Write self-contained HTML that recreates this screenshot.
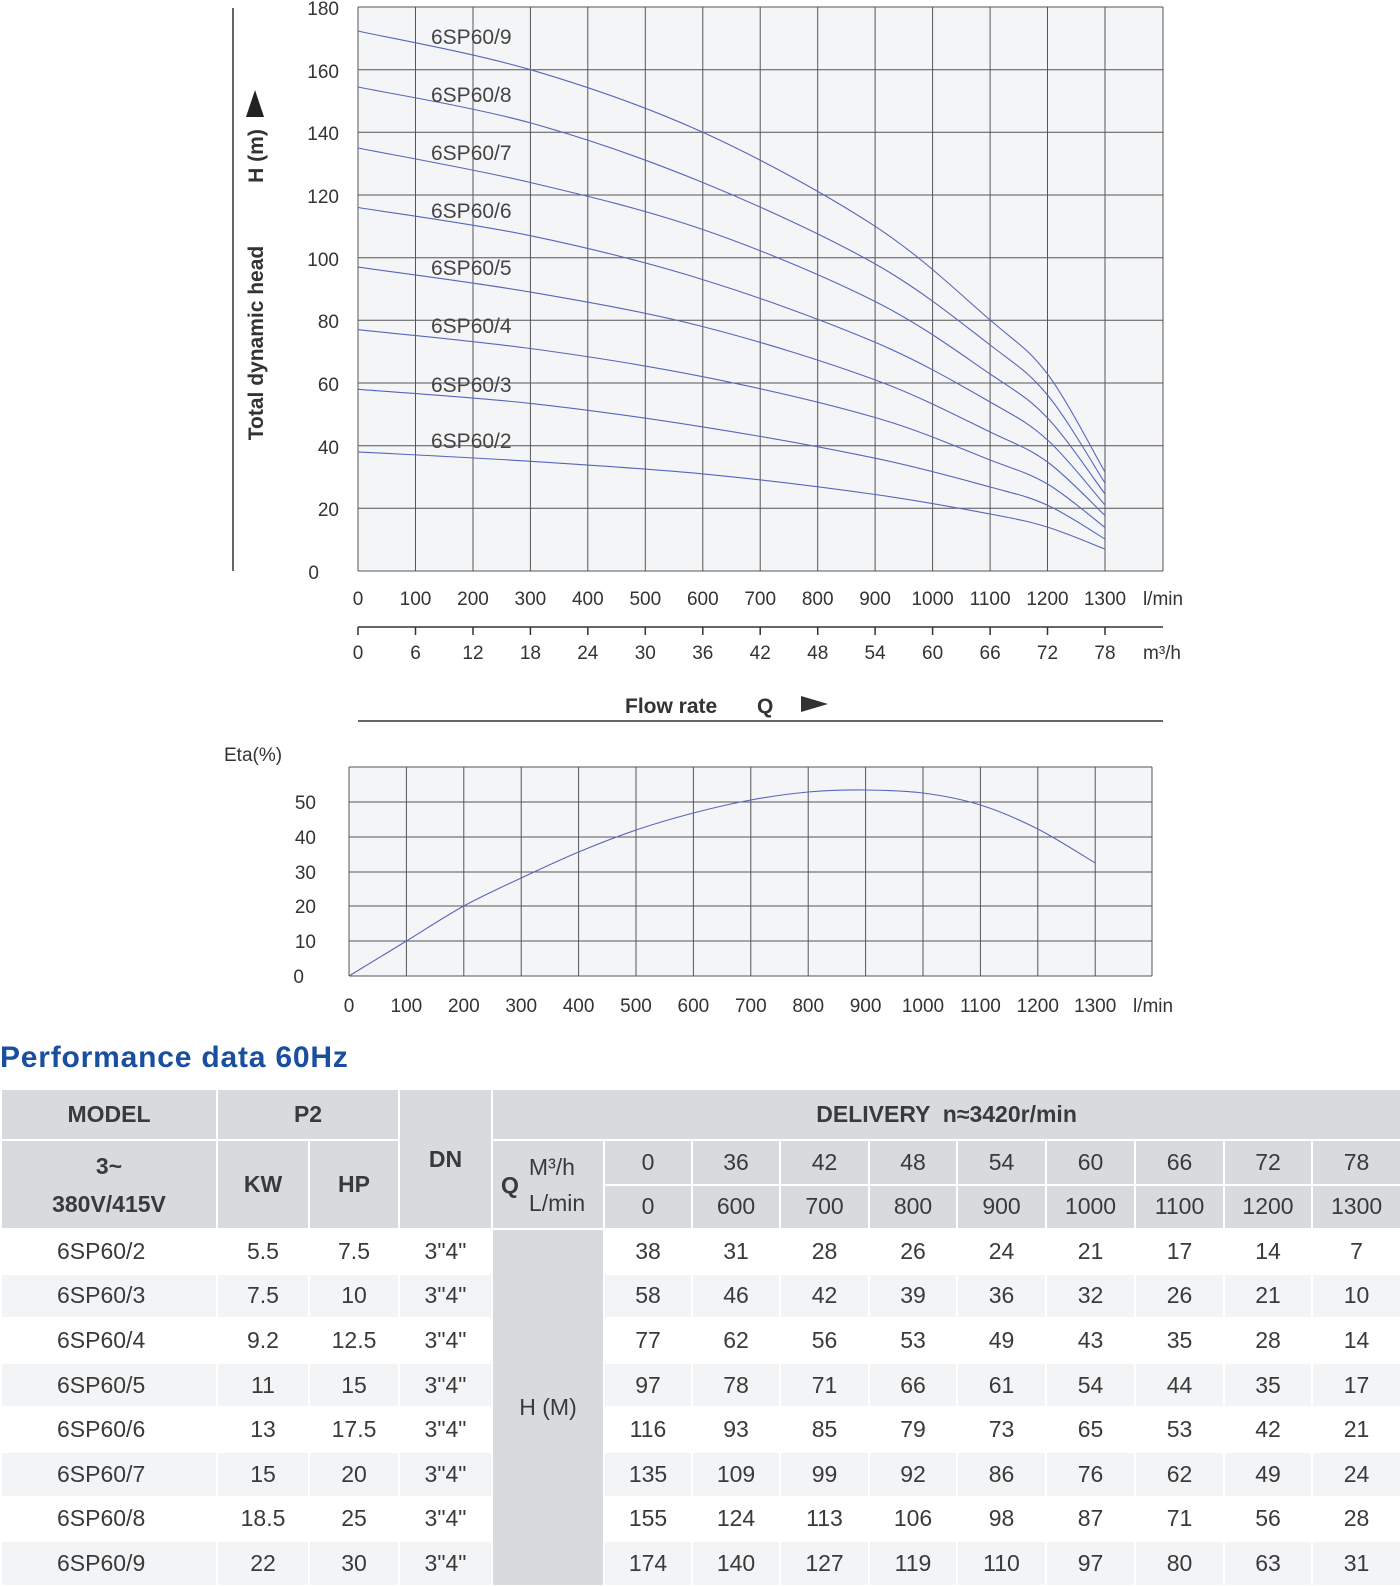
<!DOCTYPE html>
<html><head><meta charset="utf-8"><style>
body{margin:0;width:1400px;height:1585px;background:#fff;position:relative;overflow:hidden;font-family:"Liberation Sans",sans-serif}
svg{position:absolute;left:0;top:0}
.t{position:absolute;left:0;top:1088px;border-collapse:collapse;table-layout:fixed;width:1400px;font-size:23px;color:#3a3a3a}
.t td{border:2px solid #fff;text-align:center;padding:0}
.t .h{background:#d7dbde;font-weight:bold}
.t .hn{background:#d7dbde;font-weight:normal}
.t tr.a td{background:#fff}
.t tr.b td{background:#f3f4f6}
.t tr.a,.t tr.b{height:44.6px}
.t td.g{background:#d7dbde !important;font-weight:normal}
.t td.m{text-align:left;padding-left:55px}
</style></head><body>
<svg width="1400" height="1088" viewBox="0 0 1400 1088">
<rect x="358" y="7" width="805" height="564" fill="#f4f5f7"/>
<g stroke="#555" stroke-width="1">
<line x1="358" y1="7" x2="1163" y2="7"/><line x1="358" y1="69.7" x2="1163" y2="69.7"/><line x1="358" y1="132.3" x2="1163" y2="132.3"/><line x1="358" y1="195" x2="1163" y2="195"/><line x1="358" y1="257.7" x2="1163" y2="257.7"/><line x1="358" y1="320.3" x2="1163" y2="320.3"/><line x1="358" y1="383" x2="1163" y2="383"/><line x1="358" y1="445.7" x2="1163" y2="445.7"/><line x1="358" y1="508.3" x2="1163" y2="508.3"/><line x1="358" y1="571" x2="1163" y2="571"/>
<line x1="358" y1="7" x2="358" y2="571"/><line x1="415.5" y1="7" x2="415.5" y2="571"/><line x1="473" y1="7" x2="473" y2="571"/><line x1="530.4" y1="7" x2="530.4" y2="571"/><line x1="587.8" y1="7" x2="587.8" y2="571"/><line x1="645.3" y1="7" x2="645.3" y2="571"/><line x1="702.8" y1="7" x2="702.8" y2="571"/><line x1="760.2" y1="7" x2="760.2" y2="571"/><line x1="817.7" y1="7" x2="817.7" y2="571"/><line x1="875.1" y1="7" x2="875.1" y2="571"/><line x1="932.6" y1="7" x2="932.6" y2="571"/><line x1="990.1" y1="7" x2="990.1" y2="571"/><line x1="1047.5" y1="7" x2="1047.5" y2="571"/><line x1="1105" y1="7" x2="1105" y2="571"/><line x1="1163" y1="7" x2="1163" y2="571"/>
</g>
<g fill="none" stroke="#5566bb" stroke-width="1.1" stroke-linejoin="round">
<polyline class="sm" points="358,451.9 530.4,461.3 702.8,473.9 875.1,494.5 990.1,514 1047.5,527.1 1105,549.1"/>
<polyline class="sm" points="358,389.3 530.4,403.4 702.8,426.9 875.1,458.2 990.1,487 1047.5,505.2 1105,539"/>
<polyline class="sm" points="358,329.7 530.4,348.5 702.8,376.7 875.1,417.5 990.1,460 1047.5,484 1105,527.5"/>
<polyline class="sm" points="358,267.1 530.4,292.1 702.8,326.6 875.1,379.9 990.1,432 1047.5,462 1105,515.5"/>
<polyline class="sm" points="358,207.5 530.4,235.7 702.8,279.6 875.1,342.3 990.1,402 1047.5,440 1105,505"/>
<polyline class="sm" points="358,148 530.4,182.5 702.8,229.5 875.1,301.5 990.1,374 1047.5,418 1105,494"/>
<polyline class="sm" points="358,87 530.4,122.9 702.8,182.5 875.1,263.9 990.1,345 1047.5,395 1105,483"/>
<polyline class="sm" points="358,31 530.4,69.7 702.8,132.3 875.1,226.3 990.1,320 1047.5,374 1105,472"/>
</g>
<g font-size="21" fill="#444">
<text x="431" y="44">6SP60/9</text><text x="431" y="102">6SP60/8</text><text x="431" y="160">6SP60/7</text><text x="431" y="218">6SP60/6</text><text x="431" y="275">6SP60/5</text><text x="431" y="333">6SP60/4</text><text x="431" y="392">6SP60/3</text><text x="431" y="448">6SP60/2</text>
</g>
<g font-size="19" fill="#333" text-anchor="end">
<text x="339" y="15">180</text><text x="339" y="78">160</text><text x="339" y="140">140</text><text x="339" y="203">120</text><text x="339" y="266">100</text><text x="339" y="328">80</text><text x="339" y="391">60</text><text x="339" y="454">40</text><text x="339" y="516">20</text><text x="319" y="579">0</text>
</g>
<line x1="233" y1="8" x2="233" y2="571" stroke="#333" stroke-width="1.5"/>
<text transform="translate(263,343) rotate(-90)" text-anchor="middle" font-size="21" font-weight="bold" fill="#333">Total dynamic head</text>
<text transform="translate(263,156) rotate(-90)" text-anchor="middle" font-size="21" font-weight="bold" fill="#333">H (m)</text>
<polygon points="246,117 264,117 255,90" fill="#222"/>
<g font-size="19" fill="#333" text-anchor="middle">
<text x="358" y="605">0</text><text x="415.5" y="605">100</text><text x="473" y="605">200</text><text x="530.4" y="605">300</text><text x="587.8" y="605">400</text><text x="645.3" y="605">500</text><text x="702.8" y="605">600</text><text x="760.2" y="605">700</text><text x="817.7" y="605">800</text><text x="875.1" y="605">900</text><text x="932.6" y="605">1000</text><text x="990.1" y="605">1100</text><text x="1047.5" y="605">1200</text><text x="1105" y="605">1300</text>
<text x="1163" y="605">l/min</text>
<text x="358" y="659">0</text><text x="415.5" y="659">6</text><text x="473" y="659">12</text><text x="530.4" y="659">18</text><text x="587.8" y="659">24</text><text x="645.3" y="659">30</text><text x="702.8" y="659">36</text><text x="760.2" y="659">42</text><text x="817.7" y="659">48</text><text x="875.1" y="659">54</text><text x="932.6" y="659">60</text><text x="990.1" y="659">66</text><text x="1047.5" y="659">72</text><text x="1105" y="659">78</text>
<text x="1162" y="659">m³/h</text>
</g>
<line x1="358" y1="627" x2="1163" y2="627" stroke="#333" stroke-width="1.5"/>
<g stroke="#333" stroke-width="1.5"><line x1="358" y1="627" x2="358" y2="635"/><line x1="415.5" y1="627" x2="415.5" y2="635"/><line x1="473" y1="627" x2="473" y2="635"/><line x1="530.4" y1="627" x2="530.4" y2="635"/><line x1="587.8" y1="627" x2="587.8" y2="635"/><line x1="645.3" y1="627" x2="645.3" y2="635"/><line x1="702.8" y1="627" x2="702.8" y2="635"/><line x1="760.2" y1="627" x2="760.2" y2="635"/><line x1="817.7" y1="627" x2="817.7" y2="635"/><line x1="875.1" y1="627" x2="875.1" y2="635"/><line x1="932.6" y1="627" x2="932.6" y2="635"/><line x1="990.1" y1="627" x2="990.1" y2="635"/><line x1="1047.5" y1="627" x2="1047.5" y2="635"/><line x1="1105" y1="627" x2="1105" y2="635"/></g>
<text x="625" y="713" font-size="21" font-weight="bold" fill="#333">Flow rate</text>
<text x="757" y="713" font-size="21" font-weight="bold" fill="#333">Q</text>
<polygon points="801,696 828,704 801,712" fill="#333"/>
<line x1="358" y1="721" x2="1163" y2="721" stroke="#333" stroke-width="1.5"/>
<rect x="349" y="767" width="803" height="209" fill="#f4f5f7"/>
<g stroke="#555" stroke-width="1">
<line x1="349" y1="767" x2="1152" y2="767"/><line x1="349" y1="802" x2="1152" y2="802"/><line x1="349" y1="837" x2="1152" y2="837"/><line x1="349" y1="872" x2="1152" y2="872"/><line x1="349" y1="906" x2="1152" y2="906"/><line x1="349" y1="941" x2="1152" y2="941"/><line x1="349" y1="976" x2="1152" y2="976"/>
<line x1="349" y1="767" x2="349" y2="976"/><line x1="406.4" y1="767" x2="406.4" y2="976"/><line x1="463.8" y1="767" x2="463.8" y2="976"/><line x1="521.2" y1="767" x2="521.2" y2="976"/><line x1="578.6" y1="767" x2="578.6" y2="976"/><line x1="636" y1="767" x2="636" y2="976"/><line x1="693.4" y1="767" x2="693.4" y2="976"/><line x1="750.8" y1="767" x2="750.8" y2="976"/><line x1="808.2" y1="767" x2="808.2" y2="976"/><line x1="865.6" y1="767" x2="865.6" y2="976"/><line x1="923" y1="767" x2="923" y2="976"/><line x1="980.4" y1="767" x2="980.4" y2="976"/><line x1="1037.8" y1="767" x2="1037.8" y2="976"/><line x1="1095.2" y1="767" x2="1095.2" y2="976"/><line x1="1152" y1="767" x2="1152" y2="976"/>
</g>
<polyline class="sm" fill="none" stroke="#5566bb" stroke-width="1.1" points="349,976 406.4,941 463.8,906 521.2,878 578.6,852 636,830 693.4,813 750.8,800 808.2,792 865.6,790 923,793 980.4,805 1037.8,829 1095.2,863"/>
<text x="224" y="761" font-size="19" fill="#333">Eta(%)</text>
<g font-size="19" fill="#333" text-anchor="end">
<text x="316" y="809">50</text><text x="316" y="844">40</text><text x="316" y="879">30</text><text x="316" y="913">20</text><text x="316" y="948">10</text><text x="304" y="983">0</text>
</g>
<g font-size="19" fill="#333" text-anchor="middle">
<text x="349" y="1012">0</text><text x="406.4" y="1012">100</text><text x="463.8" y="1012">200</text><text x="521.2" y="1012">300</text><text x="578.6" y="1012">400</text><text x="636" y="1012">500</text><text x="693.4" y="1012">600</text><text x="750.8" y="1012">700</text><text x="808.2" y="1012">800</text><text x="865.6" y="1012">900</text><text x="923" y="1012">1000</text><text x="980.4" y="1012">1100</text><text x="1037.8" y="1012">1200</text><text x="1095.2" y="1012">1300</text><text x="1153" y="1012">l/min</text>
</g>
<text x="0" y="1067" font-size="30" font-weight="bold" fill="#1a4fa0" letter-spacing="0.8">Performance data 60Hz</text>
</svg>
<script>
(function(){
var pl=document.querySelectorAll('polyline.sm');
for(var k=0;k<pl.length;k++){
 var p=pl[k].getAttribute('points').trim().split(/\s+/).map(function(s){return s.split(',').map(Number);});
 var d='M'+p[0][0]+','+p[0][1];
 for(var i=0;i<p.length-1;i++){
  var p0=p[i-1]||p[i],p1=p[i],p2=p[i+1],p3=p[i+2]||p2;
  var c1=[p1[0]+(p2[0]-p0[0])/6,p1[1]+(p2[1]-p0[1])/6];
  var c2=[p2[0]-(p3[0]-p1[0])/6,p2[1]-(p3[1]-p1[1])/6];
  d+=' C'+c1[0].toFixed(1)+','+c1[1].toFixed(1)+' '+c2[0].toFixed(1)+','+c2[1].toFixed(1)+' '+p2[0]+','+p2[1];
 }
 var path=document.createElementNS('http://www.w3.org/2000/svg','path');
 path.setAttribute('d',d);
 path.setAttribute('fill','none');path.setAttribute('stroke','#5566bb');path.setAttribute('stroke-width','1.1');
 pl[k].parentNode.replaceChild(path,pl[k]);
}
})();
</script>
<table class="t">
<colgroup><col style="width:216px"><col style="width:92px"><col style="width:90px"><col style="width:93px"><col style="width:112px"><col style="width:88px"><col style="width:88px"><col style="width:89px"><col style="width:88px"><col style="width:89px"><col style="width:89px"><col style="width:89px"><col style="width:88px"><col style="width:89px"></colgroup>
<tr style="height:51px"><td class="h">MODEL</td><td class="h" colspan="2">P2</td><td class="h" rowspan="3">DN</td><td class="h" colspan="10">DELIVERY &nbsp;n≈3420r/min</td></tr>
<tr style="height:44.5px"><td class="h" rowspan="2" style="line-height:38px">3~<br>380V/415V</td><td class="h" rowspan="2">KW</td><td class="h" rowspan="2">HP</td><td class="hn" rowspan="2" style="text-align:left;padding-left:8px;line-height:36px"><b style="display:inline-block;vertical-align:middle;margin-right:10px">Q</b><span style="display:inline-block;vertical-align:middle">M³/h<br>L/min</span></td><td class="hn">0</td><td class="hn">36</td><td class="hn">42</td><td class="hn">48</td><td class="hn">54</td><td class="hn">60</td><td class="hn">66</td><td class="hn">72</td><td class="hn">78</td></tr>
<tr style="height:44.5px"><td class="hn">0</td><td class="hn">600</td><td class="hn">700</td><td class="hn">800</td><td class="hn">900</td><td class="hn">1000</td><td class="hn">1100</td><td class="hn">1200</td><td class="hn">1300</td></tr>
<tr class="a"><td class="m">6SP60/2</td><td>5.5</td><td>7.5</td><td>3"4"</td><td class="g" rowspan="8">H (M)</td><td>38</td><td>31</td><td>28</td><td>26</td><td>24</td><td>21</td><td>17</td><td>14</td><td>7</td></tr>
<tr class="b"><td class="m">6SP60/3</td><td>7.5</td><td>10</td><td>3"4"</td><td>58</td><td>46</td><td>42</td><td>39</td><td>36</td><td>32</td><td>26</td><td>21</td><td>10</td></tr>
<tr class="a"><td class="m">6SP60/4</td><td>9.2</td><td>12.5</td><td>3"4"</td><td>77</td><td>62</td><td>56</td><td>53</td><td>49</td><td>43</td><td>35</td><td>28</td><td>14</td></tr>
<tr class="b"><td class="m">6SP60/5</td><td>11</td><td>15</td><td>3"4"</td><td>97</td><td>78</td><td>71</td><td>66</td><td>61</td><td>54</td><td>44</td><td>35</td><td>17</td></tr>
<tr class="a"><td class="m">6SP60/6</td><td>13</td><td>17.5</td><td>3"4"</td><td>116</td><td>93</td><td>85</td><td>79</td><td>73</td><td>65</td><td>53</td><td>42</td><td>21</td></tr>
<tr class="b"><td class="m">6SP60/7</td><td>15</td><td>20</td><td>3"4"</td><td>135</td><td>109</td><td>99</td><td>92</td><td>86</td><td>76</td><td>62</td><td>49</td><td>24</td></tr>
<tr class="a"><td class="m">6SP60/8</td><td>18.5</td><td>25</td><td>3"4"</td><td>155</td><td>124</td><td>113</td><td>106</td><td>98</td><td>87</td><td>71</td><td>56</td><td>28</td></tr>
<tr class="b"><td class="m">6SP60/9</td><td>22</td><td>30</td><td>3"4"</td><td>174</td><td>140</td><td>127</td><td>119</td><td>110</td><td>97</td><td>80</td><td>63</td><td>31</td></tr>
</table>
</body></html>
